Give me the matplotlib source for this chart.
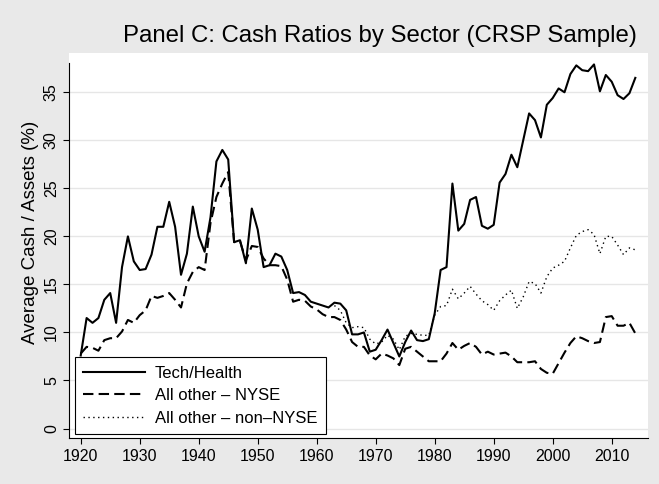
import matplotlib
matplotlib.use("Agg")
import matplotlib.pyplot as plt
import numpy as np

plt.rcParams['font.family'] = ['Liberation Sans', 'DejaVu Sans']

# data
years = list(range(1920, 2015))
tech_health = [
    7.6, 11.5, 11.0, 11.5, 13.4, 14.1, 11.0, 16.8, 20.0, 17.4,
    16.5, 16.6, 18.1, 21.0, 21.0, 23.6, 21.0, 16.0, 18.2, 23.1,
    20.0, 18.4, 22.0, 27.8, 29.0, 28.0, 19.4, 19.6, 17.2, 22.9,
    20.7, 16.8, 17.0, 18.2, 17.9, 16.5, 14.1, 14.2, 13.9, 13.2,
    13.0, 12.8, 12.6, 13.1, 13.0, 12.3, 9.8, 9.8, 10.0, 8.0,
    8.2, 9.2, 10.3, 8.9, 7.5, 9.0, 10.2, 9.2, 9.1, 9.3,
    12.0, 16.5, 16.8, 25.5, 20.6, 21.3, 23.8, 24.1, 21.1, 20.8,
    21.2, 25.6, 26.5, 28.5, 27.2, 30.0, 32.8, 32.1, 30.3, 33.7,
    34.4, 35.4, 35.0, 36.9, 37.8, 37.3, 37.2, 37.9, 35.1, 36.8,
    36.1, 34.7, 34.3, 34.9, 36.5,
]
other_nyse = [
    7.8, 8.5, 8.4, 8.1, 9.2, 9.4, 9.4, 10.1, 11.3, 11.0,
    11.8, 12.3, 13.8, 13.6, 13.8, 14.1, 13.4, 12.6, 15.1, 16.3,
    16.8, 16.5, 21.4, 24.1, 25.5, 26.7, 19.4, 19.5, 17.5, 19.0,
    18.9, 17.7, 17.0, 17.0, 16.9, 15.5, 13.2, 13.4, 13.3, 12.7,
    12.4, 11.9, 11.6, 11.6, 11.3, 10.3, 9.0, 8.5, 8.5, 7.6,
    7.2, 7.8, 7.6, 7.3, 6.6, 8.3, 8.5, 8.0, 7.5, 7.0,
    7.0, 7.0, 7.8, 8.9, 8.2, 8.6, 8.9, 8.5, 7.7, 8.0,
    7.7, 7.8, 7.9, 7.5, 6.9, 6.9, 6.9, 7.0, 6.2, 5.8,
    5.7, 6.8, 7.9, 8.9, 9.6, 9.4, 9.1, 8.9, 9.0, 11.6,
    11.7, 10.7, 10.7, 11.0, 9.9,
]
years_nonnyse = list(range(1963, 2015))
other_nonnyse = [
    12.8, 12.3, 11.0, 10.5, 10.6, 10.5, 9.3,
    8.8, 9.0, 9.7, 9.3, 8.2, 9.6, 9.9, 9.8, 9.7, 9.7,
    11.8, 12.7, 12.8, 14.5, 13.5, 14.1, 14.8, 14.0, 13.3, 12.9,
    12.3, 13.3, 13.9, 14.4, 12.5, 13.7, 15.3, 15.1, 14.1, 15.8,
    16.7, 17.0, 17.4, 18.8, 20.1, 20.5, 20.7, 20.2, 18.2, 20.0,
    20.0, 19.1, 18.1, 18.8, 18.6,
]
labels = ['Tech/Health', 'All other \u2013 NYSE', 'All other \u2013 non\u2013NYSE']
xticks = list(range(1920, 2011, 10))
yticks = list(range(0, 36, 5))

bg = '#E9E9E9'
fig = plt.figure(figsize=[6.59, 4.84], dpi=100, facecolor=bg)
ax = fig.add_axes([0.1052, 0.0944, 0.8781, 0.7961])
ax.set_facecolor('white')

ax.plot(years, tech_health, color='black', lw=1.5, label=labels[0])
ax.plot(years, other_nyse, color='black', lw=1.5, dashes=(5, 2.5), label=labels[1])
ax.plot(years_nonnyse, other_nonnyse, color='black', lw=1.0, dashes=(1, 2.5), label=labels[2])

ax.set_xlim(1918.07, 2016.15)
ax.set_ylim(-1.02, 39.09)
ax.set_xticks(xticks)
ax.set_yticks(yticks)
ax.tick_params(axis='both', labelsize=11.5, length=4, width=0.8, color='black')
for lab in ax.get_yticklabels():
    lab.set_rotation(90)
    lab.set_va('center')
ax.grid(axis='y', color='#E6E6E6', lw=1.0)
ax.set_axisbelow(True)
for s in ['top', 'right']:
    ax.spines[s].set_visible(False)
ax.spines['left'].set_bounds(-1.02, 38.0)
ax.spines['left'].set_linewidth(0.8)
ax.spines['bottom'].set_linewidth(0.8)

ax.set_ylabel('Average Cash / Assets (%)', fontsize=13.5)
ax.yaxis.set_label_coords(-0.052, 0.535)
fig.text(379.5 / 659, 1 - 36 / 484, 'Panel C: Cash Ratios by Sector (CRSP Sample)',
         fontsize=17.3, ha='center', va='center')

leg = ax.legend(loc='lower left', bbox_to_anchor=(75 / 659, 50 / 484),
                bbox_transform=fig.transFigure, borderaxespad=0, fontsize=12,
                handlelength=3.7, handletextpad=0.6, labelspacing=0.45,
                fancybox=False, framealpha=1, edgecolor='black', borderpad=0.5)
leg.get_frame().set_linewidth(0.8)

plt.savefig('out.png', dpi=100, facecolor=bg)
